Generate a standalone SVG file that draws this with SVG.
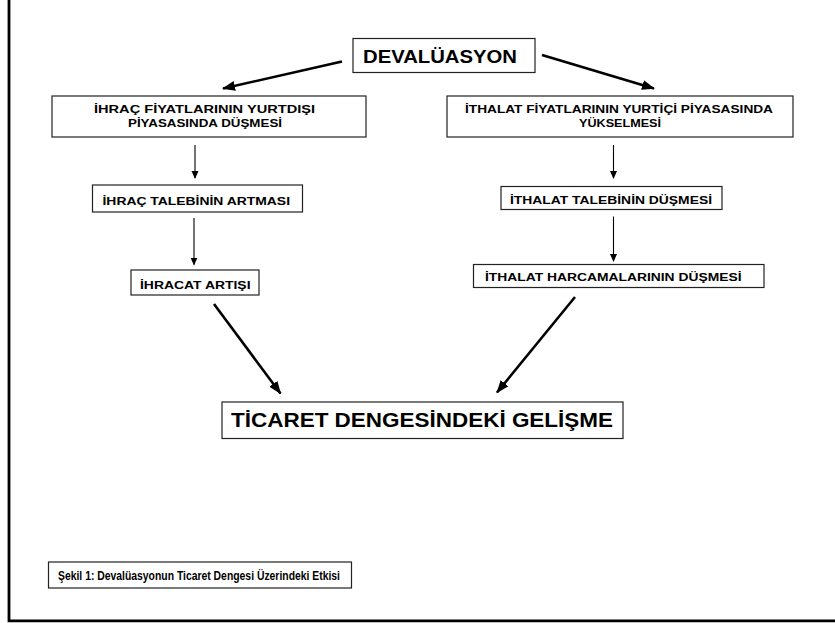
<svg xmlns="http://www.w3.org/2000/svg" width="835" height="623" viewBox="0 0 835 623">
<defs>
<style>
.box{fill:#fff;stroke:#222;stroke-width:1.2}
.t{font-family:"Liberation Sans",Arial,sans-serif;font-weight:bold;fill:#000}
.thick{stroke:#000;stroke-width:2.6;fill:none}
.thin{stroke:#000;stroke-width:1.1;fill:none}
</style>
<marker id="ah" markerUnits="userSpaceOnUse" markerWidth="14" markerHeight="12" refX="12" refY="5" orient="auto" viewBox="0 0 14 10">
<path d="M0,0 L13,5 L0,10 Z" fill="#000"/>
</marker>
<marker id="as" markerUnits="userSpaceOnUse" markerWidth="8" markerHeight="8" refX="7" refY="3.5" orient="auto" viewBox="0 0 8 7">
<path d="M0,0 L8,3.5 L0,7 Z" fill="#000"/>
</marker>
</defs>
<rect width="835" height="623" fill="#fff"/>
<path d="M9,0 V620.8 H835" fill="none" stroke="#000" stroke-width="2.8"/>

<g id="n-devaluasyon">
<rect class="box" x="353" y="38.5" width="182" height="34"/>
<text class="t" x="363" y="63" font-size="17.7" textLength="154" lengthAdjust="spacingAndGlyphs">DEVALÜASYON</text>
</g>
<g id="n-ihrac-fiyat">
<rect class="box" x="52" y="96" width="314" height="41"/>
<text class="t" x="94" y="113" font-size="10.6" textLength="221" lengthAdjust="spacingAndGlyphs">İHRAÇ FİYATLARININ YURTDIŞI</text>
<text class="t" x="128" y="127" font-size="10.6" textLength="154" lengthAdjust="spacingAndGlyphs">PİYASASINDA DÜŞMESİ</text>
</g>
<g id="n-ithalat-fiyat">
<rect class="box" x="447" y="96" width="346" height="41"/>
<text class="t" x="465" y="113" font-size="10.6" textLength="308" lengthAdjust="spacingAndGlyphs">İTHALAT FİYATLARININ YURTİÇİ PİYASASINDA</text>
<text class="t" x="579" y="127" font-size="10.6" textLength="82" lengthAdjust="spacingAndGlyphs">YÜKSELMESİ</text>
</g>
<g id="n-ihrac-talep">
<rect class="box" x="92.5" y="185" width="210" height="27"/>
<text class="t" x="102.5" y="205" font-size="11.3" textLength="187.5" lengthAdjust="spacingAndGlyphs">İHRAÇ TALEBİNİN ARTMASI</text>
</g>
<g id="n-ithalat-talep">
<rect class="box" x="501" y="186.5" width="221" height="23"/>
<text class="t" x="510" y="204.3" font-size="10.9" textLength="202" lengthAdjust="spacingAndGlyphs">İTHALAT TALEBİNİN DÜŞMESİ</text>
</g>
<g id="n-ihracat-artisi">
<rect class="box" x="131" y="270" width="128" height="25"/>
<text class="t" x="140" y="289" font-size="11" textLength="110.5" lengthAdjust="spacingAndGlyphs">İHRACAT ARTIŞI</text>
</g>
<g id="n-ithalat-harcama">
<rect class="box" x="473.5" y="264.5" width="290.5" height="23"/>
<text class="t" x="485" y="280.5" font-size="11.3" textLength="256.5" lengthAdjust="spacingAndGlyphs">İTHALAT HARCAMALARININ DÜŞMESİ</text>
</g>
<g id="n-ticaret">
<rect class="box" x="222" y="402" width="401" height="36.5"/>
<text class="t" x="231" y="426.7" font-size="21" textLength="382" lengthAdjust="spacingAndGlyphs">TİCARET DENGESİNDEKİ GELİŞME</text>
</g>
<g id="n-caption">
<rect class="box" x="48.5" y="562" width="303" height="26"/>
<text class="t" x="58" y="580" font-size="12.2" textLength="282" lengthAdjust="spacingAndGlyphs">Şekil 1: Devalüasyonun Ticaret Dengesi Üzerindeki Etkisi</text>
</g>

<g id="connectors">
<line class="thick" x1="342" y1="61.5" x2="223" y2="88.5" marker-end="url(#ah)"/>
<line class="thick" x1="542" y1="55" x2="654" y2="88.5" marker-end="url(#ah)"/>
<line class="thin" x1="195" y1="145" x2="195" y2="178" marker-end="url(#as)"/>
<line class="thin" x1="613.5" y1="145" x2="613.5" y2="178" marker-end="url(#as)"/>
<line class="thin" x1="194" y1="218" x2="194" y2="264.5" marker-end="url(#as)"/>
<line class="thin" x1="613.5" y1="216.5" x2="613.5" y2="261" marker-end="url(#as)"/>
<line class="thick" x1="214" y1="304" x2="280.5" y2="393.5" marker-end="url(#ah)"/>
<line class="thick" x1="575" y1="297" x2="497" y2="392.5" marker-end="url(#ah)"/>
</g>
</svg>
